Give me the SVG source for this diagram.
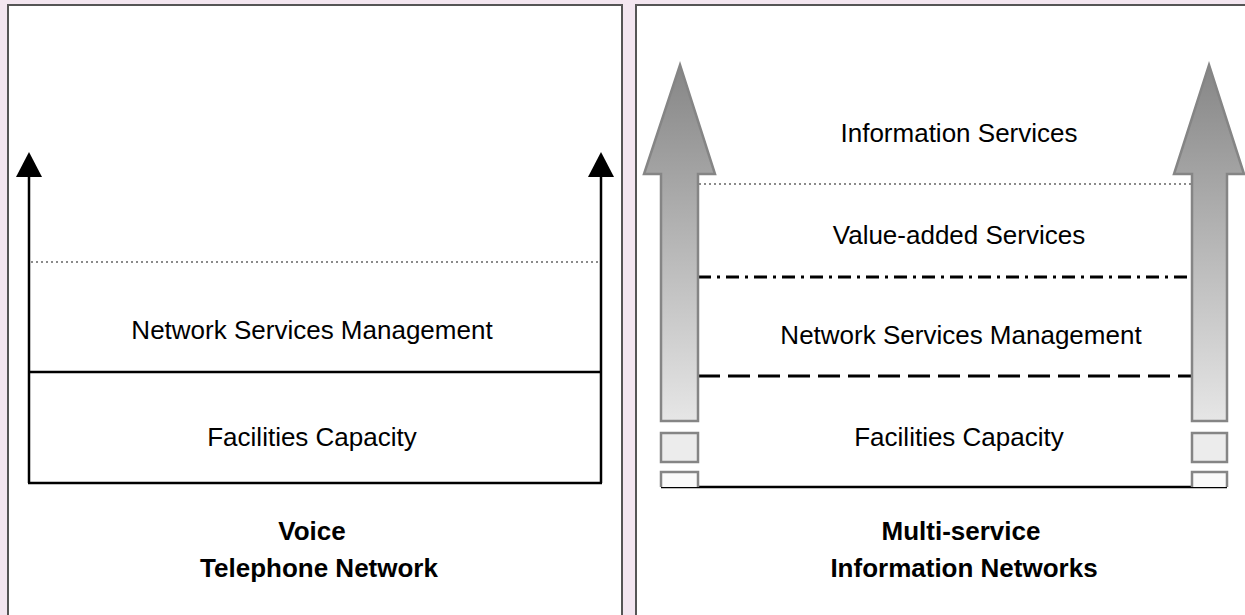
<svg xmlns="http://www.w3.org/2000/svg" width="1245" height="615" viewBox="0 0 1245 615">
  <defs>
    <linearGradient id="shaftFill" x1="0" y1="65" x2="0" y2="421" gradientUnits="userSpaceOnUse">
      <stop offset="0" stop-color="#868686"/>
      <stop offset="1" stop-color="#e6e6e6"/>
    </linearGradient>
    <style>
      .panel { fill: #ffffff; stroke: #555555; stroke-width: 2; }
      .label { font-family: "Liberation Sans", Arial, sans-serif; font-size: 26px; fill: #000000; text-anchor: middle; }
      .title { font-family: "Liberation Sans", Arial, sans-serif; font-size: 26px; font-weight: bold; fill: #000000; text-anchor: middle; }
      .solid { stroke: #000000; stroke-width: 2.5; fill: none; }
      .dotted { stroke: #8a8a8a; stroke-width: 2; stroke-dasharray: 2 3; fill: none; }
      .dashed { stroke: #000000; stroke-width: 3; stroke-dasharray: 22 8; fill: none; }
      .dashdot { stroke: #000000; stroke-width: 3; stroke-dasharray: 13 6 3 6; fill: none; }
      .bigArrow { fill: url(#shaftFill); stroke: #858585; stroke-width: 2.5; }
      .block { stroke: #858585; stroke-width: 2.5; }
      .head { fill: #000000; }
    </style>
  </defs>

  <!-- page background -->
  <rect x="0" y="0" width="1245" height="615" fill="#f3e6f0"/>

  <!-- left panel: voice telephone network -->
  <g id="voice-panel">
    <rect class="panel" x="8" y="5" width="614" height="640"/>
  </g>

  <!-- right panel: multi-service information networks -->
  <g id="multiservice-panel">
    <rect class="panel" x="636" y="5" width="640" height="640"/>
  </g>

  <!-- left panel layer boundaries and side arrows -->
  <g id="connectors">
    <line class="solid" x1="29" y1="483" x2="29" y2="176"/>
    <line class="solid" x1="601" y1="483" x2="601" y2="176"/>
    <line class="solid" x1="28" y1="483" x2="602" y2="483"/>
    <line class="solid" x1="29" y1="372" x2="601" y2="372"/>
    <line class="dotted" x1="31" y1="262" x2="599" y2="262"/>
    <polygon class="head" points="29,152 16,177 42,177"/>
    <polygon class="head" points="601,152 588,177 614,177"/>

    <!-- right panel layer boundaries -->
    <line class="dotted" x1="699" y1="184" x2="1191" y2="184"/>
    <line class="dashdot" x1="698" y1="277" x2="1192" y2="277"/>
    <line class="dashed" x1="698" y1="376" x2="1192" y2="376"/>
    <line class="solid" x1="661" y1="487" x2="1227" y2="487"/>
  </g>

  <!-- large shaded arrows with stacked blocks -->
  <g id="left-growth-arrow">
    <polygon class="bigArrow" points="680,65 715,174 698,174 698,421 661,421 661,174 644,174"/>
    <rect class="block" x="661" y="433" width="37" height="29" fill="#ececec"/>
    <path class="block" d="M661,487 V472 H698 V487" fill="#fafafa"/>
  </g>
  <g id="right-growth-arrow">
    <polygon class="bigArrow" points="1209,65 1244,174 1227,174 1227,421 1192,421 1192,174 1174,174"/>
    <rect class="block" x="1192" y="433" width="35" height="29" fill="#ececec"/>
    <path class="block" d="M1192,487 V472 H1227 V487" fill="#fafafa"/>
  </g>

  <!-- left panel labels -->
  <g id="voice-labels">
    <text class="label" x="312" y="339">Network Services Management</text>
    <text class="label" x="312" y="446">Facilities Capacity</text>
    <text class="title" x="312" y="540">Voice</text>
    <text class="title" x="319" y="577">Telephone Network</text>
  </g>

  <!-- right panel labels -->
  <g id="multiservice-labels">
    <text class="label" x="959" y="142">Information Services</text>
    <text class="label" x="959" y="244">Value-added Services</text>
    <text class="label" x="961" y="344">Network Services Management</text>
    <text class="label" x="959" y="446">Facilities Capacity</text>
    <text class="title" x="961" y="540">Multi-service</text>
    <text class="title" x="964" y="577">Information Networks</text>
  </g>
</svg>
